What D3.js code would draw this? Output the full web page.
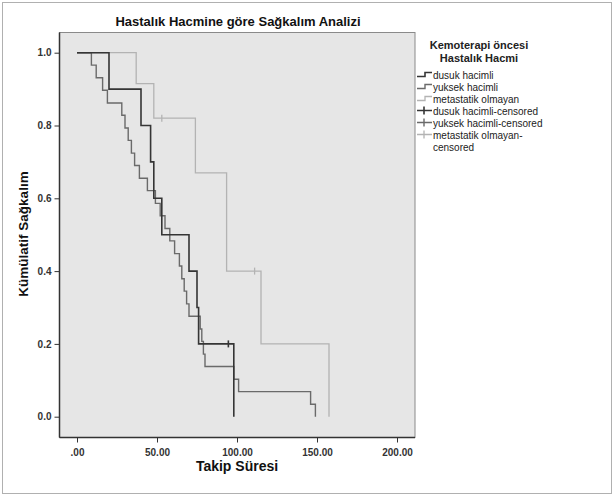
<!DOCTYPE html>
<html><head><meta charset="utf-8">
<script src="https://cdn.jsdelivr.net/npm/d3@7"></script>
<style>body{margin:0;background:#fff;} svg{display:block;font-family:"Liberation Sans",Arial,sans-serif;}</style>
</head><body>
<script>
const title = "Hastalık Hacmine göre Sağkalım Analizi";
const xLabel = "Takip Süresi";
const yLabel = "Kümülatif Sağkalım";
const legendTitle = ["Kemoterapi öncesi", "Hastalık Hacmi"];
const xTicks = [0, 50, 100, 150, 200];
const xTickLabels = [".00", "50.00", "100.00", "150.00", "200.00"];
const yTicks = [0, 0.2, 0.4, 0.6, 0.8, 1.0];
const yTickLabels = ["0.0", "0.2", "0.4", "0.6", "0.8", "1.0"];
const seriesNames = ["dusuk hacimli", "yuksek hacimli", "metastatik olmayan"];
const censorNames = ["dusuk hacimli-censored", "yuksek hacimli-censored", "metastatik olmayan-\ncensored"];

const dusukTimes = [0, 20, 40, 46, 48, 53, 70, 75, 76, 98];
const dusukSurv  = [1.0, 0.9, 0.8, 0.7, 0.6, 0.5, 0.4, 0.3, 0.2, 0.0];
const dusukCensorTimes = [94.6];
const dusukCensorSurv  = [0.2];

const yuksekTimes = [0, 9, 12, 16, 19, 28, 30, 32, 34, 36, 39, 44, 49, 52, 55, 58, 61, 64, 65.5, 67, 68.5, 70, 77, 78, 79, 80, 98, 101, 146, 149];
const yuksekSurv  = [1.000, 0.966, 0.931, 0.897, 0.862, 0.828, 0.793, 0.759, 0.724, 0.690, 0.655, 0.621, 0.586, 0.552, 0.517, 0.483, 0.448, 0.414, 0.379, 0.345, 0.310, 0.276, 0.241, 0.207, 0.172, 0.138, 0.103, 0.069, 0.034, 0.000];
const yuksekCensorTimes = [];
const yuksekCensorSurv  = [];

const metTimes = [0, 37, 48, 74, 93.5, 115, 157.5];
const metSurv  = [1.0, 0.915, 0.82, 0.67, 0.40, 0.20, 0.0];
const metCensorTimes = [53, 111];
const metCensorSurv  = [0.82, 0.40];

const colors = ["#353535", "#6a6a6a", "#b3b3b3"];
const widths = [1.6, 1.4, 1.3];

const W = 614, H = 496;
const svg = d3.select("body").append("svg").attr("width", W).attr("height", H);

svg.append("rect").attr("x", 2.5).attr("y", 2.5).attr("width", W - 5).attr("height", H - 5)
  .attr("fill", "#fff").attr("stroke", "#b0b0b0");

const x = d3.scaleLinear().domain([0, 200]).range([77, 397]);
const y = d3.scaleLinear().domain([0, 1]).range([416.7, 52.7]);
const plot = {left: 59.5, right: 415, top: 32.5, bottom: 437.5};

svg.append("rect").attr("x", plot.left).attr("y", plot.top)
  .attr("width", plot.right - plot.left).attr("height", plot.bottom - plot.top)
  .attr("fill", "#e6e6e6").attr("stroke", "#8a8a8a").attr("stroke-width", 1);

// axes
const xAxis = d3.axisBottom(x).tickValues(xTicks).tickFormat((d, i) => xTickLabels[i]).tickSize(5).tickSizeOuter(0);
const yAxis = d3.axisLeft(y).tickValues(yTicks).tickFormat((d, i) => yTickLabels[i]).tickSize(5).tickSizeOuter(0);
const gx = svg.append("g").attr("transform", `translate(0,${plot.bottom})`).call(xAxis);
const gy = svg.append("g").attr("transform", `translate(${plot.left},0)`).call(yAxis);
gx.select(".domain").attr("d", `M${plot.left},0H${plot.right}`).attr("stroke", "#333").attr("stroke-width", 1.5);
gy.select(".domain").attr("d", `M0,${plot.top}V${plot.bottom}`).attr("stroke", "#333").attr("stroke-width", 1.5);
[gx, gy].forEach(g => {
  g.selectAll(".tick line").attr("stroke", "#333");
  g.selectAll(".tick text").attr("fill", "#333").attr("font-size", 10).attr("font-weight", "bold")
    .attr("font-family", "'Liberation Sans',Arial,sans-serif");
});
gx.selectAll(".tick text").attr("dy", "1.05em");

// curves
const line = d3.line().x(d => x(d[0])).y(d => y(d[1])).curve(d3.curveStepAfter);
const series = [
  {t: dusukTimes, s: dusukSurv, ct: dusukCensorTimes, cs: dusukCensorSurv},
  {t: yuksekTimes, s: yuksekSurv, ct: yuksekCensorTimes, cs: yuksekCensorSurv},
  {t: metTimes, s: metSurv, ct: metCensorTimes, cs: metCensorSurv}
];
[2, 1, 0].forEach(i => {
  const sr = series[i];
  const pts = sr.t.map((t, j) => [t, sr.s[j]]);
  svg.append("path").attr("d", line(pts)).attr("fill", "none")
    .attr("stroke", colors[i]).attr("stroke-width", widths[i]);
  svg.selectAll(null).data(sr.ct.map((t, j) => [t, sr.cs[j]])).enter().append("line")
    .attr("x1", d => x(d[0])).attr("x2", d => x(d[0]))
    .attr("y1", d => y(d[1]) - 3.5).attr("y2", d => y(d[1]) + 3.5)
    .attr("stroke", colors[i]).attr("stroke-width", widths[i]);
});

// title & labels
svg.append("text").attr("x", 238).attr("y", 26).attr("text-anchor", "middle")
  .attr("font-size", 13).attr("font-weight", "bold").attr("fill", "#111").text(title);
svg.append("text").attr("x", 237).attr("y", 471).attr("text-anchor", "middle")
  .attr("font-size", 14).attr("font-weight", "bold").attr("fill", "#111").text(xLabel);
svg.append("text").attr("transform", "translate(28,234) rotate(-90)").attr("text-anchor", "middle")
  .attr("font-size", 13.5).attr("font-weight", "bold").attr("fill", "#111").text(yLabel);

// legend
const lg = svg.append("g");
legendTitle.forEach((t, i) => {
  lg.append("text").attr("x", 479).attr("y", 49 + i * 12.5).attr("text-anchor", "middle")
    .attr("font-size", 11).attr("font-weight", "bold").attr("fill", "#222").text(t);
});
const items = [];
seriesNames.forEach((n, i) => items.push({name: n, kind: "line", i}));
censorNames.forEach((n, i) => items.push({name: n, kind: "censor", i}));
let ly = 78.5;
items.forEach(it => {
  const c = colors[it.i], w = widths[it.i];
  if (it.kind === "line") {
    lg.append("path").attr("d", `M417,${ly - 2}H425V${ly - 6}H432`).attr("fill", "none")
      .attr("stroke", c).attr("stroke-width", w);
  } else {
    lg.append("path").attr("d", `M417,${ly - 4}H432M424,${ly - 8}V${ly}`).attr("fill", "none")
      .attr("stroke", c).attr("stroke-width", w);
  }
  const lines = it.name.split("\n");
  lines.forEach((l, k) => {
    lg.append("text").attr("x", 433).attr("y", ly + k * 12).attr("font-size", 10)
      .attr("fill", "#222").text(l);
  });
  ly += 12 * lines.length;
});
</script>
</body></html>
